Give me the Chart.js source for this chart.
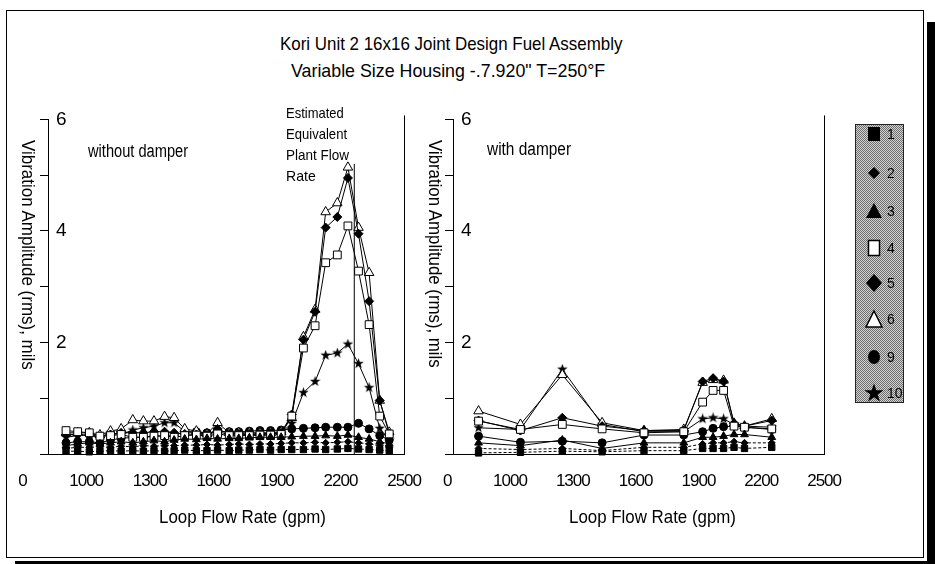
<!DOCTYPE html>
<html>
<head>
<meta charset="utf-8">
<script src="https://cdn.jsdelivr.net/npm/chart.js@4.4.1/dist/chart.umd.min.js"></script>
<style>
  html, body { margin: 0; padding: 0; background: #fff; }
  body { width: 935px; height: 564px; position: relative; overflow: hidden;
         font-family: 'Liberation Sans Narrow', 'Liberation Sans', Arial, sans-serif; color: #000; }
  .frame { position: absolute; left: 6px; top: 10px; width: 918px; height: 548px; border: 1px solid #000; box-sizing: border-box; }
  .shadowR { position: absolute; left: 927px; top: 22px; width: 8px; height: 542px; background: #000; }
  .shadowB { position: absolute; left: 15px; top: 561px; width: 920px; height: 3px; background: #000; }
  .txt { position: absolute; white-space: nowrap; line-height: 1; }
  canvas { position: absolute; }
  #legend { position: absolute; left: 855px; top: 124px; width: 49px; height: 279px; box-sizing: border-box;
            border: 1px solid #222;
            background: repeating-conic-gradient(#6e6e6e 0 25%, #d2d2d2 0 50%) 0 0 / 2px 2px; }
  #legend .sym { position: absolute; left: 8px; width: 20px; height: 20px; }
  #legend .lab { position: absolute; left: 31px; font: 14px 'Liberation Sans', Arial, sans-serif; line-height: 1; }
</style>
</head>
<body>
<div class="frame"></div>
<div class="shadowR"></div>
<div class="shadowB"></div>
<canvas id="leftChart" width="440" height="420" style="left:0px; top:100px;"></canvas>
<canvas id="rightChart" width="440" height="420" style="left:420px; top:100px;"></canvas>
<div id="legend"></div>
<script>
// ---- datos ----
const flowTicks = [700, 1000, 1300, 1600, 1900, 2200, 2500];
const flowTickLabels = ['0', '1000', '1300', '1600', '1900', '2200', '2500'];

// sin amortiguador (panel izquierdo)
const leftFlow = [905, 960, 1015, 1065, 1115, 1165, 1220, 1270, 1320, 1370, 1415, 1465, 1520, 1570, 1620, 1675,
                  1720, 1770, 1820, 1870, 1920, 1970, 2025, 2080, 2130, 2185, 2235, 2285, 2335, 2385, 2430];
const left1  = [0.05, 0.05, 0.04, 0.05, 0.06, 0.05, 0.06, 0.05, 0.06, 0.05, 0.06, 0.07, 0.06, 0.06, 0.07, 0.06,
                0.07, 0.07, 0.08, 0.07, 0.08, 0.08, 0.08, 0.09, 0.08, 0.09, 0.1, 0.09, 0.08, 0.07, 0.06];
const left2  = [0.1, 0.12, 0.12, 0.13, 0.12, 0.14, 0.13, 0.15, 0.14, 0.15, 0.15, 0.16, 0.16, 0.17, 0.16, 0.17,
                0.18, 0.17, 0.18, 0.18, 0.19, 0.2, 0.2, 0.21, 0.2, 0.21, 0.22, 0.2, 0.18, 0.15, 0.12];
const left3  = [0.15, 0.18, 0.2, 0.18, 0.2, 0.22, 0.2, 0.22, 0.24, 0.22, 0.25, 0.27, 0.26, 0.28, 0.27, 0.28,
                0.28, 0.29, 0.3, 0.3, 0.3, 0.31, 0.32, 0.32, 0.33, 0.32, 0.34, 0.3, 0.27, 0.22, 0.18];
const left4  = [0.42, 0.4, 0.38, 0.32, 0.33, 0.35, 0.3, 0.3, 0.32, 0.33, 0.3, 0.33, 0.34, 0.32, 0.36, 0.33,
                0.33, 0.33, 0.34, 0.34, 0.35, 0.68, 1.9, 2.3, 3.43, 3.57, 4.09, 3.28, 2.32, 0.68, 0.36];
const left5  = [0.35, 0.35, 0.33, 0.3, 0.35, 0.38, 0.38, 0.38, 0.4, 0.4, 0.38, 0.36, 0.35, 0.34, 0.45, 0.36,
                0.36, 0.36, 0.36, 0.37, 0.38, 0.71, 2.05, 2.55, 4.06, 4.25, 4.95, 3.95, 2.74, 0.96, 0.36];
const left6  = [0.38, 0.38, 0.38, 0.34, 0.41, 0.45, 0.61, 0.59, 0.59, 0.67, 0.65, 0.45, 0.41, 0.36, 0.56, 0.38,
                0.38, 0.38, 0.38, 0.38, 0.4, 0.65, 2.1, 2.59, 4.34, 4.5, 5.14, 4.06, 3.25, 0.96, 0.39];
const left9  = [0.2, 0.22, 0.22, 0.2, 0.25, 0.28, 0.3, 0.3, 0.32, 0.32, 0.33, 0.4, 0.4, 0.38, 0.4, 0.4,
                0.4, 0.41, 0.42, 0.42, 0.43, 0.45, 0.46, 0.47, 0.48, 0.48, 0.48, 0.55, 0.45, 0.33, 0.25];
const left10 = [0.3, 0.33, 0.35, 0.3, 0.38, 0.35, 0.43, 0.47, 0.5, 0.56, 0.56, 0.4, 0.38, 0.35, 0.4, 0.35,
                0.35, 0.35, 0.35, 0.36, 0.38, 0.55, 1.1, 1.3, 1.77, 1.81, 1.97, 1.62, 1.19, 0.46, 0.25];

// caudal equivalente estimado de planta (linea vertical)
const plantFlow = 2265;
const plantLineTop = 5.2;

// con amortiguador (panel derecho)
const rightFlow = [850, 1050, 1250, 1440, 1640, 1830, 1920, 1970, 2020, 2070, 2120, 2250];
const right1  = [0.02, 0.03, 0.05, 0.04, 0.06, 0.06, 0.1, 0.1, 0.1, 0.12, 0.1, 0.12];
const right2  = [0.1, 0.08, 0.1, 0.06, 0.12, 0.12, 0.18, 0.2, 0.2, 0.22, 0.2, 0.2];
const right3  = [0.2, 0.15, 0.25, 0.1, 0.2, 0.2, 0.3, 0.3, 0.32, 0.35, 0.35, 0.3];
const right4  = [0.59, 0.44, 0.53, 0.45, 0.38, 0.4, 0.93, 1.14, 1.14, 0.5, 0.48, 0.45];
const right5  = [0.6, 0.42, 0.65, 0.5, 0.42, 0.42, 1.3, 1.36, 1.3, 0.55, 0.5, 0.6];
const right6  = [0.77, 0.53, 1.42, 0.56, 0.42, 0.44, 1.28, 1.33, 1.32, 0.55, 0.5, 0.63];
const right9  = [0.32, 0.21, 0.23, 0.2, 0.34, 0.34, 0.4, 0.46, 0.49, 0.5, 0.48, 0.44];
const right10 = [0.47, 0.44, 1.52, 0.53, 0.4, 0.4, 0.63, 0.65, 0.63, 0.53, 0.5, 0.48];

const seriesNames = ['1', '2', '3', '4', '5', '6', '9', '10'];
const leftValues  = [left1, left2, left3, left4, left5, left6, left9, left10];
const rightValues = [right1, right2, right3, right4, right5, right6, right9, right10];

const FONT = "'Liberation Sans Narrow', 'Liberation Sans', Arial, sans-serif";

// estrella rellena como imagen para pointStyle
function starImage(size) {
  const c = document.createElement('canvas');
  c.width = c.height = size;
  const g = c.getContext('2d');
  g.beginPath();
  for (let i = 0; i < 10; i++) {
    const r = i % 2 ? size * 0.2 : size / 2;
    const a = -Math.PI / 2 + i * Math.PI / 5;
    g.lineTo(size / 2 + r * Math.cos(a), size / 2 + r * Math.sin(a));
  }
  g.closePath();
  g.fillStyle = '#000';
  g.fill();
  return c;
}

// estilo de cada serie (mismo orden que seriesNames)
const seriesStyle = [
  { shape: 'rect',     radius: 4.5, fill: '#000', dash: [3, 2] },
  { shape: 'rectRot',  radius: 3.5, fill: '#000', dash: [3, 2] },
  { shape: 'triangle', radius: 4.5, fill: '#000', dash: [] },
  { shape: 'rect',     radius: 5.5, fill: '#fff', dash: [] },
  { shape: 'rectRot',  radius: 4.5, fill: '#000', dash: [] },
  { shape: 'triangle', radius: 5.5, fill: '#fff', dash: [] },
  { shape: 'circle',   radius: 4,   fill: '#000', dash: [] },
  { shape: starImage(11), radius: 5, fill: '#000', dash: [] }
];

// borde derecho del area y texto mas estrecho
const panelExtras = {
  id: 'panelExtras',
  beforeDraw(chart) {
    chart.ctx.letterSpacing = '-1px';
  },
  afterDraw(chart) {
    const { ctx, chartArea } = chart;
    ctx.save();
    ctx.strokeStyle = '#000';
    ctx.lineWidth = 1;
    ctx.beginPath();
    ctx.moveTo(Math.round(chartArea.right) + 0.5, chartArea.top - 4);
    ctx.lineTo(Math.round(chartArea.right) + 0.5, chartArea.bottom);
    ctx.stroke();
    ctx.restore();
  }
};

function makePanel(flow, values, xMin, pad) {
  const datasets = values.map((vals, i) => {
    const st = seriesStyle[i];
    return {
      label: seriesNames[i],
      data: flow.map((f, k) => ({ x: f, y: vals[k] })),
      borderColor: '#000',
      borderWidth: 1,
      borderDash: st.dash,
      pointStyle: st.shape,
      pointRadius: st.radius,
      pointBackgroundColor: st.fill,
      pointBorderColor: '#000',
      pointBorderWidth: 1,
      tension: 0,
      clip: false
    };
  });
  return { datasets, options: {
    responsive: false,
    animation: false,
    devicePixelRatio: 1,
    layout: { padding: pad },
    plugins: { legend: { display: false }, tooltip: { enabled: false } },
    scales: {
      x: {
        type: 'linear', min: xMin, max: 2500,
        afterBuildTicks: s => { s.ticks = flowTicks.map(v => ({ value: v })); },
        afterFit: s => { s.height = 60; },
        ticks: {
          autoSkip: false, maxRotation: 0, padding: 17, color: '#000',
          font: { family: FONT, size: 17 },
          callback: v => flowTickLabels[flowTicks.indexOf(v)]
        },
        grid: { drawOnChartArea: false, drawTicks: false },
        border: { display: true, color: '#000', width: 1 }
      },
      y: {
        position: 'left', min: 0, max: 6,
        afterFit: s => { s.width = 8; },
        ticks: {
          stepSize: 1, mirror: true, padding: 8, color: '#000',
          font: { family: "'Liberation Sans', Arial, sans-serif", size: 19 },
          callback: v => (v > 0 && v % 2 === 0) ? v : ''
        },
        grid: { drawOnChartArea: false, drawTicks: true, tickLength: 8, color: '#000', tickColor: '#000' },
        border: { display: true, color: '#000', width: 1 }
      }
    }
  }};
}

// panel izquierdo
const leftCfg = makePanel(leftFlow, leftValues, 820, { left: 40, right: 29, top: 17, bottom: 6 });
leftCfg.datasets.push({
  label: 'plant',
  data: [{ x: plantFlow, y: 0 }, { x: plantFlow, y: plantLineTop }],
  borderColor: '#000', borderWidth: 1, pointRadius: 0, tension: 0
});
new Chart(document.getElementById('leftChart'), {
  type: 'line',
  data: { datasets: leftCfg.datasets },
  options: leftCfg.options,
  plugins: [panelExtras]
});

// panel derecho
const rightCfg = makePanel(rightFlow, rightValues, 728, { left: 25, right: 27, top: 17, bottom: 6 });
new Chart(document.getElementById('rightChart'), {
  type: 'line',
  data: { datasets: rightCfg.datasets },
  options: rightCfg.options,
  plugins: [panelExtras]
});

// textos (ajustados al ancho medido)
function putText(str, o) {
  const el = document.createElement('div');
  el.className = 'txt';
  el.textContent = str;
  el.style.fontSize = o.size + 'px';
  if (o.vertical) el.style.writingMode = 'vertical-rl';
  document.body.appendChild(el);
  const w = el.offsetWidth, h = el.offsetHeight;
  if (o.vertical) {
    el.style.transformOrigin = '50% 0';
    el.style.transform = `scaleY(${o.length / h})`;
    el.style.left = (o.cx - w / 2) + 'px';
    el.style.top = o.top + 'px';
  } else {
    el.style.transformOrigin = '0 0';
    el.style.transform = `scaleX(${o.width / w})`;
    const left = o.left !== undefined ? o.left : o.cx - o.width / 2;
    el.style.left = left + 'px';
    el.style.top = (o.cy - h / 2) + 'px';
  }
}

putText('Kori Unit 2 16x16 Joint Design Fuel Assembly', { cx: 451, cy: 43, width: 342, size: 19 });
putText('Variable Size Housing -.7.920" T=250\u00B0F', { cx: 448, cy: 70, width: 314, size: 19 });
putText('without damper', { left: 88, cy: 151, width: 100, size: 18 });
putText('with damper', { left: 487, cy: 149, width: 84, size: 18 });
putText('Estimated', { left: 286, cy: 112, width: 58, size: 15 });
putText('Equivalent', { left: 286, cy: 133, width: 61, size: 15 });
putText('Plant Flow', { left: 286, cy: 154, width: 63, size: 15 });
putText('Rate', { left: 286, cy: 175, width: 30, size: 15 });
putText('Loop Flow Rate (gpm)', { cx: 242, cy: 516, width: 167, size: 19 });
putText('Loop Flow Rate (gpm)', { cx: 652, cy: 516, width: 167, size: 19 });
putText('Vibration Amplitude (rms), mils', { cx: 28, top: 140, length: 230, size: 18, vertical: true });
putText('Vibration Amplitude (rms), mils', { cx: 435, top: 140, length: 228, size: 18, vertical: true });

// leyenda
const legendY = [9, 48, 86, 123, 158, 194, 232, 268];
const legendSvg = [
  '<rect x="4" y="3" width="12" height="14" fill="#000"/>',
  '<polygon points="10,4 16,10 10,16 4,10" fill="#000"/>',
  '<polygon points="10,2 18,17 2,17" fill="#000"/>',
  '<rect x="4.5" y="2.5" width="11" height="15" fill="#fff" stroke="#000" stroke-width="1.5"/>',
  '<polygon points="10,1 18,10 10,19 2,10" fill="#000"/>',
  '<polygon points="10,2 18,18 2,18" fill="#fff" stroke="#000" stroke-width="1.5"/>',
  '<ellipse cx="10" cy="10" rx="6" ry="7" fill="#000"/>',
  '<polygon points="10,0.5 12.3,7.3 19.5,7.3 13.7,11.6 15.9,18.5 10,14.3 4.1,18.5 6.3,11.6 0.5,7.3 7.7,7.3" fill="#000"/>'
];
const legend = document.getElementById('legend');
seriesNames.forEach((name, i) => {
  const sym = document.createElement('div');
  sym.className = 'sym';
  sym.style.top = (legendY[i] - 10) + 'px';
  sym.innerHTML = `<svg width="20" height="20" viewBox="0 0 20 20">${legendSvg[i]}</svg>`;
  legend.appendChild(sym);
  const lab = document.createElement('div');
  lab.className = 'lab';
  lab.style.top = (legendY[i] - 7) + 'px';
  lab.textContent = name;
  legend.appendChild(lab);
});
</script>
</body>
</html>
